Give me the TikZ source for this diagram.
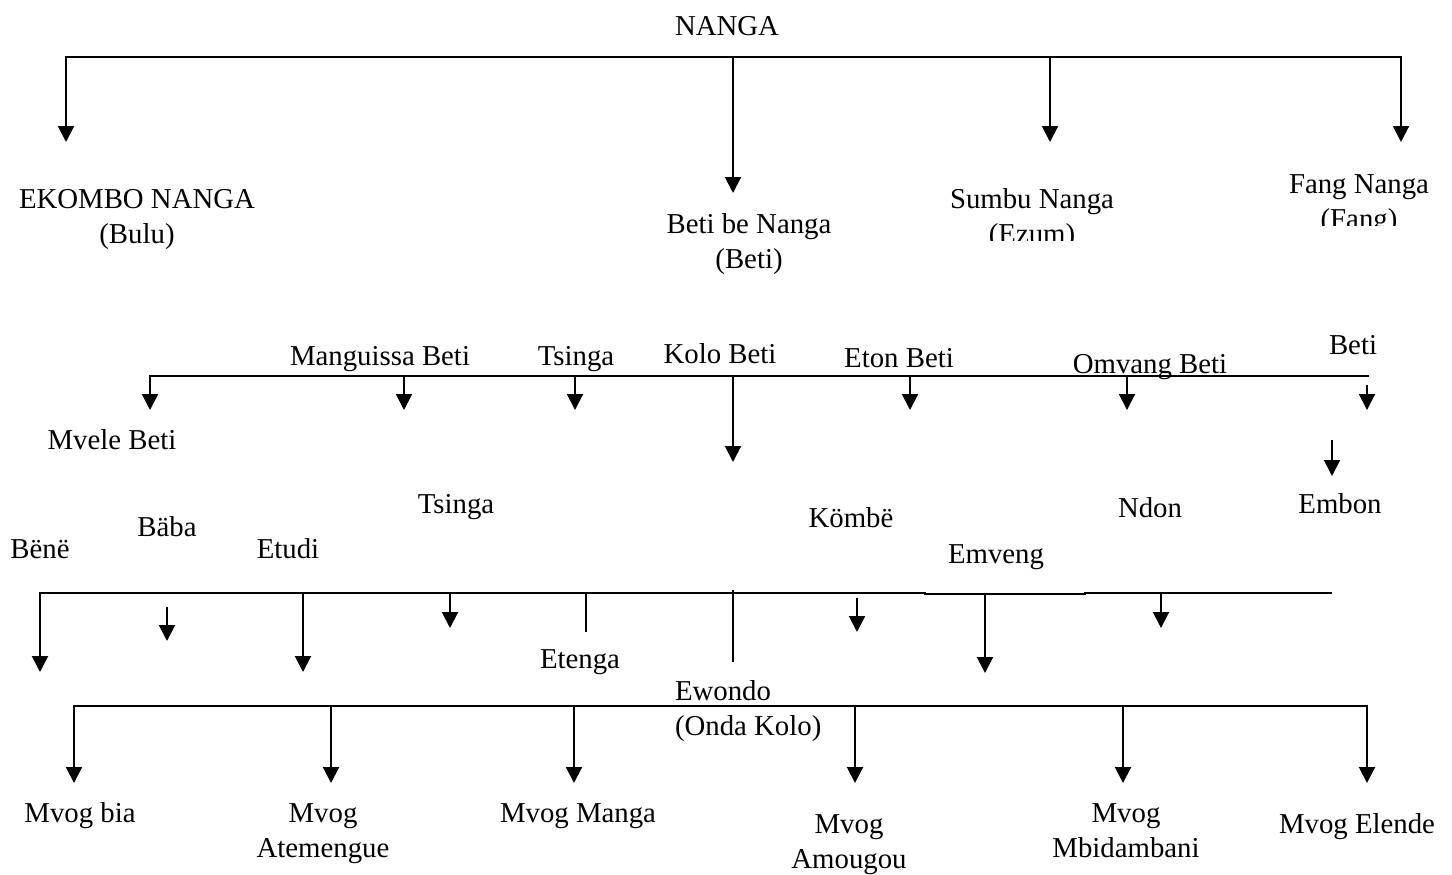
\documentclass[tikz,border=0pt]{standalone}
\usepackage{fontspec}
\setmainfont{Liberation Serif}
\usetikzlibrary{arrows.meta}
\newcommand{\twoC}[2]{\begin{tabular}[t]{@{}c@{}}#1\\#2\end{tabular}}
\newcommand{\twoL}[2]{\begin{tabular}[t]{@{}l@{}}#1\\#2\end{tabular}}
\begin{document}
\begin{tikzpicture}[x=0.5pt,y=-0.5pt,
  lbl/.style={inner sep=0pt, outer sep=0pt, anchor=base,
    font=\fontsize{14.4}{17.5}\selectfont},
  ln/.style={line width=1pt, line cap=rect},
  arr/.style={line width=1pt, -{Triangle[width=8pt,length=8pt]}}]
\useasboundingbox (0,0) rectangle (1452,874);
\fill[white] (0,0) rectangle (1452,874);

% ---------- level 1 ----------
\node[lbl] (nanga) at (727,35) {NANGA};
\coordinate (T1) at (66,57);
\coordinate (T2) at (733,57);
\coordinate (T3) at (1050,57);
\coordinate (T4) at (1401,57);
\draw[ln] (T1) -- (T4);
\draw[arr] (T1) -- ++(0,85);
\draw[arr] (T2) -- ++(0,136);
\draw[arr] (T3) -- ++(0,85);
\draw[arr] (T4) -- ++(0,85);

\node[lbl] (ekombo) at (137,208) {\twoC{EKOMBO NANGA}{(Bulu)}};
\node[lbl] (betibe) at (749,233) {\twoC{Beti be Nanga}{(Beti)}};
\begin{scope}
  \clip (930,160) rectangle (1200,240);
  \node[lbl] (sumbu) at (1032,208) {\twoC{Sumbu Nanga}{(Ezum)}};
\end{scope}
\begin{scope}
  \clip (1250,160) rectangle (1452,225);
  \node[lbl] (fang) at (1359,193) {\twoC{Fang Nanga}{(Fang)}};
\end{scope}

% ---------- level 2 ----------
\node[lbl] (mang) at (380,365) {Manguissa Beti};
\node[lbl] (tsinga1) at (576,365) {Tsinga};
\node[lbl] (kolo) at (720,363) {Kolo Beti};
\node[lbl] (eton) at (899,367) {Eton Beti};
\node[lbl] (omvang) at (1150,373) {Omvang Beti};
\node[lbl] (betiR) at (1353,354) {Beti};
\node[lbl] (mvele) at (112,449) {Mvele Beti};

\coordinate (S1) at (150,376);
\coordinate (S2) at (404,376);
\coordinate (S3) at (575,376);
\coordinate (S4) at (733,376);
\coordinate (S5) at (910,376);
\coordinate (S6) at (1127,376);
\coordinate (S7) at (1368,376);
\draw[ln] (S1) -- (S7);
\draw[arr] (S1) -- ++(0,34);
\draw[arr] (S2) -- ++(0,34);
\draw[arr] (S3) -- ++(0,34);
\draw[arr] (S4) -- ++(0,86);
\draw[arr] (S5) -- ++(0,34);
\draw[arr] (S6) -- ++(0,34);
\coordinate (R1) at (1367,385);
\draw[arr] (R1) -- ++(0,25);
\coordinate (R2) at (1332,440);
\draw[arr] (R2) -- ++(0,36);

% ---------- level 3 labels ----------
\node[lbl] (tsinga2) at (456,513) {Tsinga};
\node[lbl] (baba) at (167,536) {Bäba};
\node[lbl] (bene) at (40,558) {Bënë};
\node[lbl] (etudi) at (288,558) {Etudi};
\node[lbl] (kombe) at (851,527) {Kömbë};
\node[lbl] (emveng) at (996,563) {Emveng};
\node[lbl] (ndon) at (1150,517) {Ndon};
\node[lbl] (embon) at (1340,513) {Embon};

\coordinate (U1) at (40,593);
\coordinate (U2) at (303,593);
\coordinate (U3) at (450,593);
\coordinate (U4) at (586,593);
\coordinate (U5) at (733,591);
\coordinate (U6) at (985,594);
\coordinate (U7) at (1161,593);
\coordinate (Um1) at (925,593);
\coordinate (Um2) at (925,594);
\coordinate (Um3) at (1085,594);
\coordinate (Um4) at (1085,593);
\coordinate (U8) at (1331,593);
\draw[ln] (U1) -- (Um1);
\draw[ln] (Um2) -- (Um3);
\draw[ln] (Um4) -- (U8);
\draw[arr] (U1) -- ++(0,79);
\draw[arr] (U2) -- ++(0,79);
\draw[arr] (U3) -- ++(0,35);
\draw[ln] (U4) -- ++(0,38);
\draw[ln] (U5) -- ++(0,70);
\draw[arr] (U6) -- ++(0,79);
\draw[arr] (U7) -- ++(0,35);
\coordinate (Q1) at (167,607);
\draw[arr] (Q1) -- ++(0,34);
\coordinate (Q2) at (857,598);
\draw[arr] (Q2) -- ++(0,34);

\node[lbl] (etenga) at (580,668) {Etenga};
\node[lbl, anchor=base west] (ewondo) at (675,700) {\twoL{Ewondo}{(Onda Kolo)}};

% ---------- level 4 ----------
\coordinate (V1) at (74,706);
\coordinate (V2) at (331,706);
\coordinate (V3) at (574,706);
\coordinate (V4) at (855,706);
\coordinate (V5) at (1123,706);
\coordinate (V6) at (1367,706);
\draw[ln] (V1) -- (V6);
\draw[arr] (V1) -- ++(0,77);
\draw[arr] (V2) -- ++(0,77);
\draw[arr] (V3) -- ++(0,77);
\draw[arr] (V4) -- ++(0,77);
\draw[arr] (V5) -- ++(0,77);
\draw[arr] (V6) -- ++(0,77);

\node[lbl] (mbia) at (80,822) {Mvog bia};
\node[lbl] (matem) at (323,822) {\twoC{Mvog}{Atemengue}};
\node[lbl] (mmanga) at (578,822) {Mvog Manga};
\node[lbl] (mamou) at (849,833) {\twoC{Mvog}{Amougou}};
\node[lbl] (mmbid) at (1126,822) {\twoC{Mvog}{Mbidambani}};
\node[lbl] (melende) at (1357,833) {Mvog Elende};
\end{tikzpicture}
\end{document}
